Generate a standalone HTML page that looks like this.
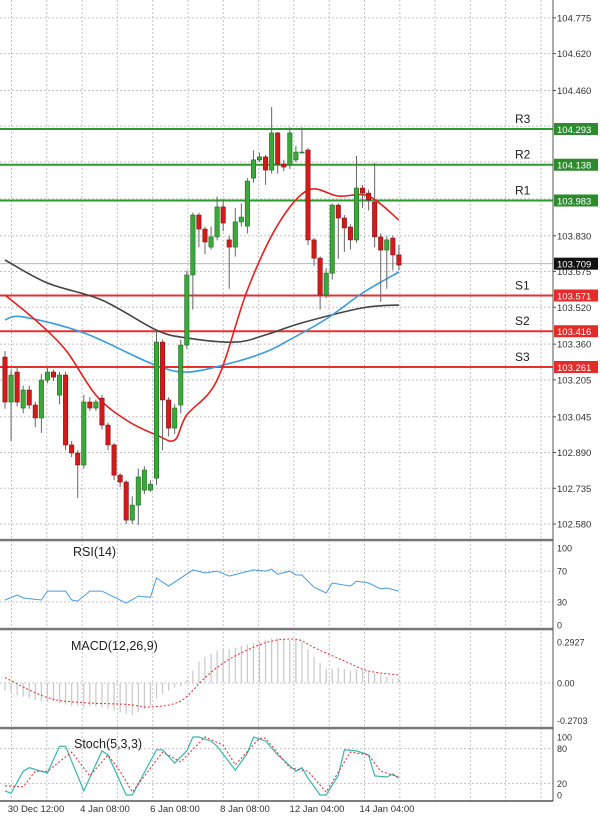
<!DOCTYPE html>
<html><head><meta charset="utf-8"><style>
html,body{margin:0;padding:0;background:#fff;}
svg{display:block;font-family:"Liberation Sans",sans-serif;}
</style></head><body>
<svg id="c" width="600" height="818" viewBox="0 0 600 818" xmlns="http://www.w3.org/2000/svg">
<rect x="0" y="0" width="600" height="818" fill="#fff"/>
<g id="grid"></g>
<g id="levels"></g>
<g id="mas"></g>
<g id="candles"></g>
<g id="panels"></g>
<g id="axes"></g>
</svg>
<script>
// ---- data ----
const opens=[103.304,103.109,103.239,103.083,103.161,103.096,103.040,103.204,103.239,103.139,103.226,102.923,102.888,102.836,103.109,103.083,103.126,103.009,102.923,102.792,102.762,102.597,102.662,102.727,102.727,102.779,103.369,103.118,102.996,103.096,103.356,103.660,103.920,103.859,103.781,103.825,103.955,103.812,103.781,103.890,103.872,104.080,104.159,104.172,104.115,104.276,104.141,104.137,104.159,104.193,104.202,103.812,103.733,103.573,103.668,103.963,103.907,103.868,103.812,104.037,104.015,103.976,103.825,103.768,103.820,103.747];
const closes=[103.109,103.226,103.109,103.161,103.096,103.040,103.204,103.239,103.217,103.226,102.923,102.888,102.836,103.109,103.083,103.109,103.009,102.923,102.792,102.762,102.597,102.662,102.784,102.814,102.753,103.369,103.118,102.996,103.083,103.356,103.660,103.920,103.859,103.803,103.825,103.955,103.885,103.781,103.890,103.911,104.067,104.159,104.172,104.115,104.276,104.141,104.128,104.276,104.193,104.193,103.812,103.733,103.573,103.668,103.963,103.907,103.864,103.812,104.037,104.015,103.985,103.825,103.768,103.812,103.747,103.703];
const highs=[103.33,103.25,103.26,103.18,103.18,103.11,103.23,103.26,103.25,103.24,103.24,102.94,102.90,103.14,103.13,103.12,103.14,103.02,102.93,102.80,102.77,102.70,102.82,102.83,102.77,103.42,103.38,103.13,103.10,103.38,103.68,103.93,103.93,103.87,103.87,104.00,103.99,103.83,103.95,103.97,104.08,104.20,104.19,104.18,104.388,104.28,104.16,104.30,104.22,104.30,104.21,103.82,103.74,103.69,103.97,103.97,103.92,103.88,104.176,104.05,104.03,104.146,103.84,103.83,103.83,103.79];
const lows=[103.08,102.94,103.09,103.06,103.08,103.00,102.975,103.19,103.20,103.10,102.90,102.87,102.693,102.82,103.07,103.07,102.99,102.90,102.77,102.74,102.58,102.58,102.576,102.71,102.72,102.75,102.90,102.96,102.97,103.06,103.34,103.51,103.78,103.75,103.77,103.81,103.85,103.60,103.74,103.87,103.84,104.06,104.15,104.05,104.10,104.10,104.11,104.12,104.15,104.19,103.79,103.70,103.51,103.56,103.64,103.73,103.76,103.77,103.80,103.95,103.94,103.78,103.543,103.60,103.68,103.68];
const maRedIdx=[0,5,10,15,20,25,28,30,35,40,45,50,55,60,65];
const maRedVal=[103.573,103.465,103.335,103.139,103.031,102.966,102.944,103.053,103.204,103.595,103.877,104.028,104.002,104.002,103.898];
const maBlueIdx=[0,3,13,24,30,38,43,46,53,59,65];
const maBlueVal=[103.465,103.478,103.409,103.278,103.239,103.283,103.326,103.365,103.469,103.582,103.673];
const maGreyIdx=[0,7,16,25,30,38,43,49,59,65];
const maGreyVal=[103.725,103.625,103.551,103.421,103.387,103.369,103.400,103.452,103.517,103.530];
const levelNames=["R3","R2","R1","S1","S2","S3"];
const levelVals=[104.293,104.138,103.983,103.571,103.416,103.261];
const currentPrice=103.709;
const priceTicks=[104.775,104.620,104.460,103.830,103.675,103.520,103.360,103.205,103.045,102.890,102.735,102.580];
const rsiIdx=[0,2,3,6,7,10,11,12,14,16,20,22,24,25,27,31,33,35,37,41,43,44,45,47,48,49,51,53,54,57,58,60,62,63,65];
const rsiVal=[32.5,39,35,32.5,44,44,32.5,31,44,44,28.5,37.5,36,61,50.5,71.5,67.5,70,63.5,71.5,70,72.5,66,70,65,65,49,41.5,54.5,50.5,57,54.5,47,48,44];
const macdHist=[-0.05,-0.06,-0.08,-0.09,-0.10,-0.11,-0.12,-0.12,-0.12,-0.13,-0.14,-0.15,-0.15,-0.16,-0.15,-0.15,-0.16,-0.17,-0.18,-0.19,-0.20,-0.21,-0.19,-0.17,-0.15,-0.10,-0.07,-0.05,-0.03,-0.02,0.02,0.08,0.14,0.17,0.19,0.21,0.22,0.22,0.23,0.24,0.25,0.26,0.27,0.28,0.29,0.29,0.29,0.28,0.28,0.27,0.22,0.17,0.13,0.09,0.09,0.10,0.09,0.08,0.09,0.09,0.07,0.06,0.05,0.04,0.03,0.03];
const macdSigIdx=[0,7,13,20,24,29,33,37,43,48,51,56,60,65];
const macdSigVal=[0.035,-0.095,-0.128,-0.139,-0.156,-0.117,0.035,0.154,0.262,0.284,0.23,0.143,0.078,0.052];
const stochKIdx=[0,1,3,4,7,9,10,13,16,17,20,21,25,26,28,30,31,32,34,35,38,40,41,43,45,48,49,50,52,53,55,56,58,60,61,63,64,65];
const stochKVal=[7,3,41,47,38,84,84,7,76,69,0,0,78,78,55,76,100,100,93,84,43,72,100,93,69,41,47,29,0,0,34,78,76,69,33,31,36,29];
const stochDIdx=[0,3,5,7,11,14,17,19,21,26,29,33,36,38,42,43,47,50,53,57,60,62,65];
const stochDVal=[16,14,41,41,74,33,69,41,5,74,57,100,86,52,98,98,47,41,5,74,69,41,31];
const timeLabels=["30 Dec 12:00","4 Jan 08:00","6 Jan 08:00","8 Jan 08:00","12 Jan 04:00","14 Jan 04:00"];
const timeLabelX=[36,105,175,245,317,387];

// ---- scales ----
const NS="http://www.w3.org/2000/svg";
const PR=553;
function xi(i){return 5+i*6.06;}
function yp(p){return 129+(104.293-p)*230.6;}
function yr(v){return 625-v*0.77;}
function ym(v){return 683-v*153.7;}
function ys(v){return 795-v*0.58;}
function mk(tag,attrs,parent){const e=document.createElementNS(NS,tag);for(const k in attrs)e.setAttribute(k,attrs[k]);parent.appendChild(e);return e;}
function path(idx,val,fx,fy){return idx.map((i,k)=>(k?"L":"M")+fx(i).toFixed(1)+","+fy(val[k]).toFixed(1)).join(" ");}
function smooth(idx,val,fx,fy){
  const P=idx.map((i,k)=>[fx(i),fy(val[k])]);
  let d="M"+P[0][0].toFixed(1)+","+P[0][1].toFixed(1);
  for(let k=0;k<P.length-1;k++){
    const p0=P[Math.max(0,k-1)],p1=P[k],p2=P[k+1],p3=P[Math.min(P.length-1,k+2)];
    const c1=[p1[0]+(p2[0]-p0[0])/6,p1[1]+(p2[1]-p0[1])/6];
    const c2=[p2[0]-(p3[0]-p1[0])/6,p2[1]-(p3[1]-p1[1])/6];
    d+=" C"+c1.map(v=>v.toFixed(1)).join(",")+" "+c2.map(v=>v.toFixed(1)).join(",")+" "+p2[0].toFixed(1)+","+p2[1].toFixed(1);
  }
  return d;
}
const G=id=>document.getElementById(id);

// grid
const grid=G('grid');
for(let gx=11.5;gx<PR;gx+=35.3){
  const l=mk('line',{x1:gx,y1:0,x2:gx,y2:801,stroke:'#c4c4c4','stroke-dasharray':'2,2','stroke-width':1},grid);
  
  
}
priceTicks.concat([104.305,104.150,103.990]).forEach(p=>{
  const l=mk('line',{x1:0,y1:yp(p),x2:PR,y2:yp(p),stroke:'#c4c4c4','stroke-dasharray':'2,2','stroke-width':1},grid);
  
  
});
[[yr,[70,30]],[ym,[0]],[ys,[80,20]]].forEach(([f,vs])=>vs.forEach(v=>{
  const l=mk('line',{x1:0,y1:f(v),x2:PR,y2:f(v),stroke:'#c4c4c4','stroke-dasharray':'2,2','stroke-width':1},grid);
  
  
}));

// current price line
const cp=mk('line',{x1:0,y1:yp(currentPrice),x2:PR,y2:yp(currentPrice),stroke:'#b8b8b8','stroke-width':1},G('levels'));



// levels
levelVals.forEach((v,k)=>{
  const col=k<3?'#2e9a2e':'#e53030';
  const l=mk('line',{x1:0,y1:yp(v),x2:PR,y2:yp(v),stroke:col,'stroke-width':2},G('levels'));
  
  
  const t=mk('text',{x:515,y:yp(v)-6,'font-size':12,fill:'#222'},G('levels'));
  t.textContent=levelNames[k];
  
  
});

// moving averages
[[maGreyIdx,maGreyVal,'#444','ma-slow'],[maBlueIdx,maBlueVal,'#3a9be0','ma-mid'],[maRedIdx,maRedVal,'#e52020','ma-fast']].forEach(([a,b,c,n])=>{
  const p=mk('path',{d:smooth(a,b,xi,yp),fill:'none',stroke:c,'stroke-width':1.6},G('mas'));
  
  
});

// candles
opens.forEach((o,i)=>{
  const c=closes[i],up=c>=o,x=xi(i);
  const g=mk('g',{},G('candles'));
  
  
  mk('line',{x1:x,y1:yp(highs[i]),x2:x,y2:yp(lows[i]),stroke:'#666','stroke-width':1},g);
  const top=yp(Math.max(o,c)),h=Math.max(1,Math.abs(yp(o)-yp(c)));
  mk('rect',{x:x-2.2,y:top,width:4.4,height:h,fill:up?'#3aa83a':'#d41a1a',stroke:up?'#1e6e1e':'#8a1010','stroke-width':0.6},g);
});

// panels
const pn=G('panels');
const rl=mk('path',{d:path(rsiIdx,rsiVal,xi,yr),fill:'none',stroke:'#4a9be0','stroke-width':1},pn);


macdHist.forEach((v,i)=>{
  const b=mk('line',{x1:xi(i),y1:ym(0),x2:xi(i),y2:ym(v),stroke:'#c8c8c8','stroke-width':1.2},pn);
  
  
});
const ms=mk('path',{d:smooth(macdSigIdx,macdSigVal,xi,ym),fill:'none',stroke:'#e03030','stroke-width':1,'stroke-dasharray':'2,2'},pn);


const sk=mk('path',{d:path(stochKIdx,stochKVal,xi,ys),fill:'none',stroke:'#3bb5b0','stroke-width':1.2},pn);


const sd=mk('path',{d:path(stochDIdx,stochDVal,xi,ys),fill:'none',stroke:'#e03030','stroke-width':1,'stroke-dasharray':'2,2'},pn);


[['RSI(14)',73,556],['MACD(12,26,9)',71,650],['Stoch(5,3,3)',74,748]].forEach(([t,x,y])=>{
  const e=mk('text',{x:x,y:y,'font-size':12.5,fill:'#222'},pn);
  e.textContent=t;
  
  
});

// axes / frame
const ax=G('axes');
[540,629,728].forEach(y=>{
  const s=mk('rect',{x:0,y:y-1.2,width:PR,height:2.5,fill:'#777'},ax);
  
  
});
mk('line',{x1:0,y1:801,x2:PR,y2:801,stroke:'#555','stroke-width':1.5},ax);
mk('line',{x1:PR,y1:0,x2:PR,y2:801,stroke:'#555','stroke-width':1},ax);
priceTicks.forEach(p=>{
  mk('line',{x1:PR,y1:yp(p),x2:PR+3,y2:yp(p),stroke:'#555'},ax);
  const t=mk('text',{x:557,y:yp(p)+3.5,'font-size':9.5,fill:'#333'},ax);
  t.textContent=p.toFixed(3);
  
  
});
function box(v,col,txt){
  const y=yp(v);
  const r=mk('rect',{x:554,y:y-6,width:44,height:12,fill:col},ax);
  
  
  const t=mk('text',{x:557,y:y+4,'font-size':9.5,fill:'#fff'},ax);
  t.textContent=txt;
  
  
}
levelVals.forEach((v,k)=>box(v,k<3?'#2e8a2e':'#e52a2a',v.toFixed(3)));
box(currentPrice,'#111',currentPrice.toFixed(3));
[[yr,[100,70,30,0],v=>String(v)],[ym,[0.2927,0,-0.2703],v=>v===0?'0.00':String(v)],[ys,[100,80,20,0],v=>String(v)]].forEach(([f,vs,fm])=>vs.forEach(v=>{
  let yy=f(v);
  if(f===ym&&v>0)yy+=4; if(f===ym&&v<0)yy-=4;
  const t=mk('text',{x:557,y:yy+3.5,'font-size':9,fill:'#333'},ax);
  t.textContent=fm(v);
  
  
}));
timeLabels.forEach((s,k)=>{
  const t=mk('text',{x:timeLabelX[k],y:812,'font-size':9.5,fill:'#333','text-anchor':'middle'},ax);
  t.textContent=s;
  
  
});
</script>
</body></html>
